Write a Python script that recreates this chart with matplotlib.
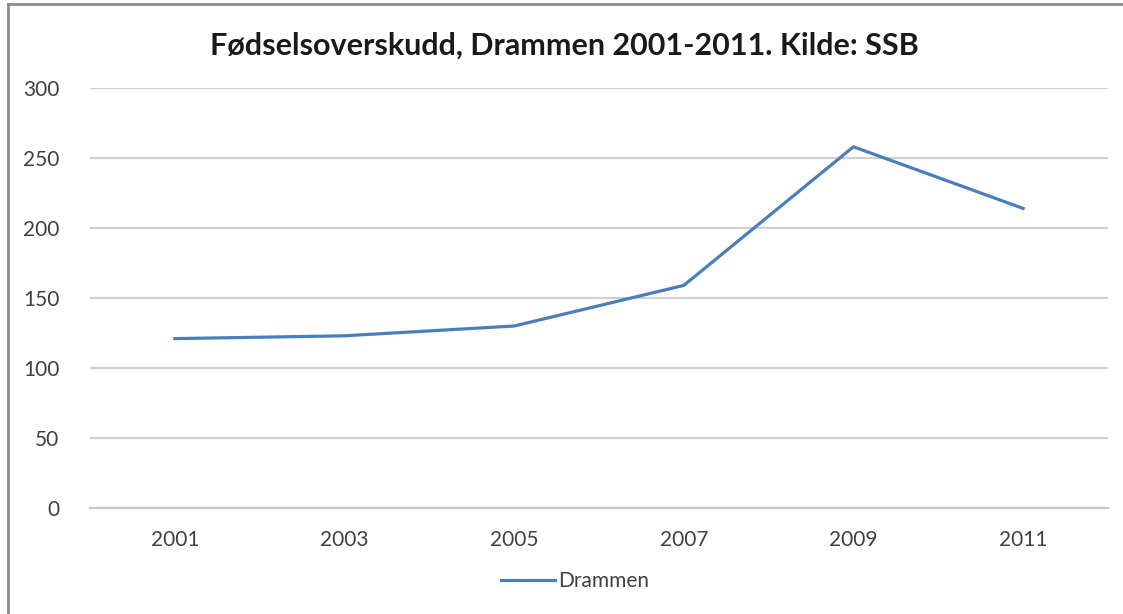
import matplotlib
matplotlib.use("Agg")
import matplotlib.pyplot as plt
from matplotlib.lines import Line2D

# data
years = ["2001", "2003", "2005", "2007", "2009", "2011"]
drammen = [121, 123, 130, 159, 258, 214]
yticks = [0, 50, 100, 150, 200, 250, 300]

plt.rcParams['font.family'] = ['Lato', 'DejaVu Sans']

fig = plt.figure(figsize=(11.23, 6.14), dpi=100)
ax = fig.add_axes([0.0801, 0.1726, 0.9065, 0.6841])

x = list(range(len(years)))
line, = ax.plot(x, drammen, color='#4A7EBB', lw=2.3, solid_joinstyle='round',
                label='Drammen')

ax.set_xlim(-0.5, len(years) - 0.5)
ax.set_ylim(0, 300)
ax.set_yticks(yticks)
ax.set_xticks(x)
ax.set_xticklabels(years)
ax.grid(axis='y', color='#D0D0D0', lw=1.6)
ax.set_axisbelow(True)
for s in ['top', 'right', 'left']:
    ax.spines[s].set_visible(False)
ax.spines['bottom'].set_color('#C8C8C8')
ax.spines['bottom'].set_linewidth(1.6)
ax.tick_params(length=0, labelsize=15, colors='#404040')
ax.tick_params(axis='y', pad=22)
ax.tick_params(axis='x', pad=16)

fig.text(0.503, 0.926, 'Fødselsoverskudd, Drammen 2001-2011. Kilde: SSB',
         ha='center', va='center', fontsize=22, fontweight='bold', color='#1a1a1a')

fig.legend(handles=[line], loc='center', bbox_to_anchor=(0.512, 0.054),
           frameon=False, fontsize=15, handlelength=2.6, handletextpad=0.15,
           labelcolor='#404040')

# frame of the chart area: only left and top edges are visible
fig.lines.append(Line2D([0.007, 0.007], [0.0, 0.993], transform=fig.transFigure,
                        color='#8C8C8C', lw=2))
fig.lines.append(Line2D([0.007, 1.0], [0.993, 0.993], transform=fig.transFigure,
                        color='#8C8C8C', lw=2))

fig.savefig('out.png', dpi=100)
